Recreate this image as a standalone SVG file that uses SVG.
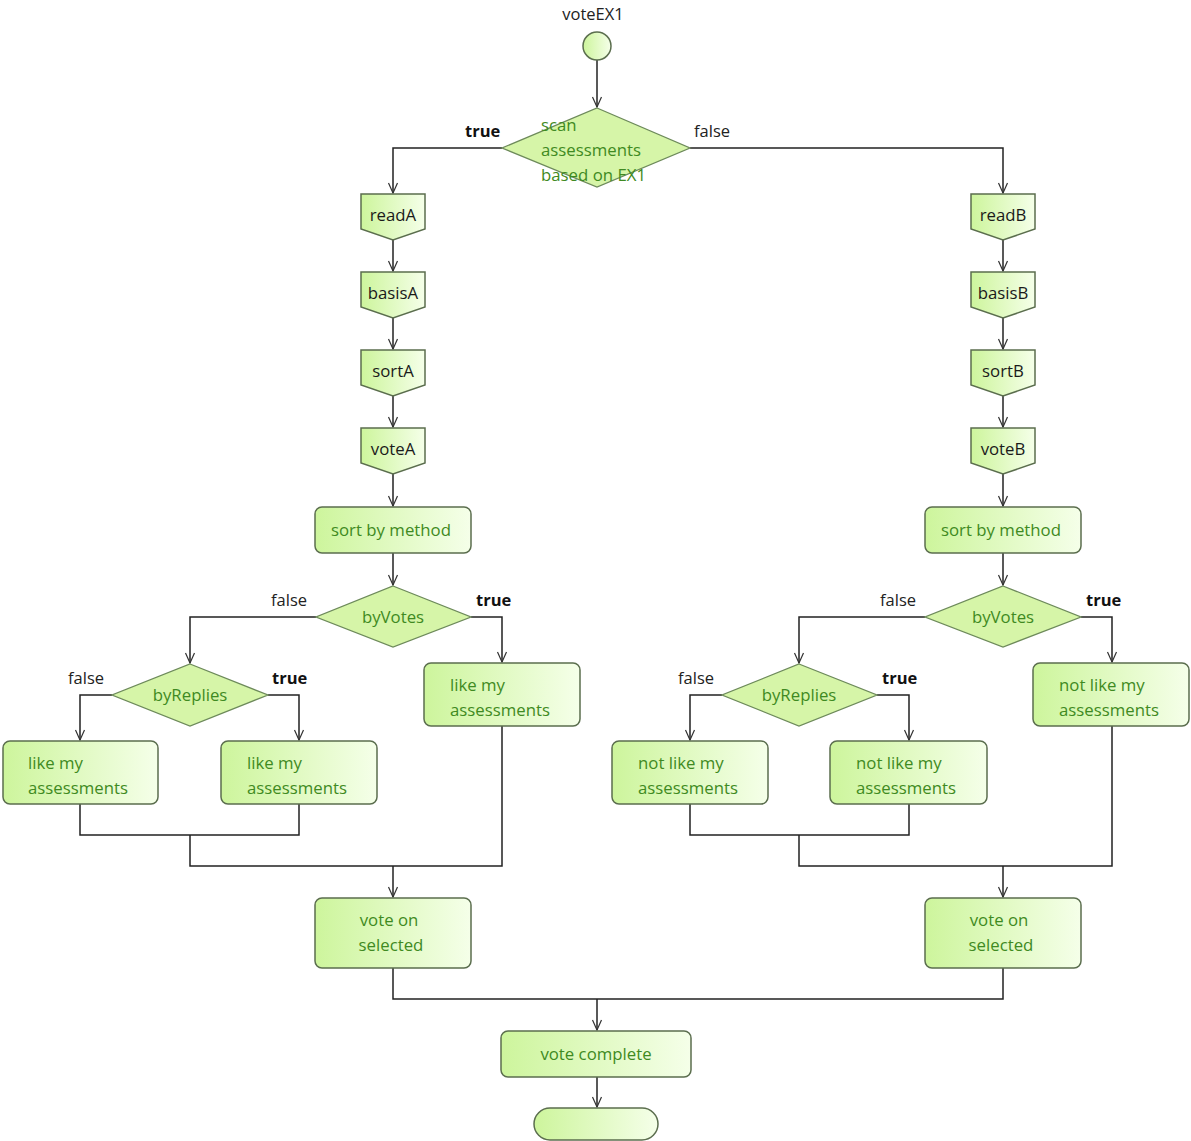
<svg xmlns="http://www.w3.org/2000/svg" width="1191" height="1141" viewBox="0 0 1191 1141">
<defs>
<linearGradient id="g" x1="0" y1="0" x2="1" y2="0">
<stop offset="0" stop-color="#cdf59c"/>
<stop offset="1" stop-color="#f5ffe9"/>
</linearGradient>
<marker id="a" markerUnits="userSpaceOnUse" markerWidth="12" markerHeight="12" viewBox="0 0 12 12" refX="11" refY="6" orient="auto">
<path d="M1,1.5 L11,6 L1,10.5" fill="none" stroke="#333" stroke-width="1.2"/>
</marker>
</defs>
<style>
.n{fill:url(#g);stroke:#5b6e4e;stroke-width:1.5}
.d{fill:#d6f5a8;stroke:#6d8a5a;stroke-width:1.3}
.t{font-family:"Open Sans","Noto Sans",sans-serif;font-size:16.8px;fill:#3f8a22}
.k{fill:#1a1a1a}
.c{text-anchor:middle}
.l{font-family:"Open Sans","Noto Sans",sans-serif;font-size:16.5px;fill:#222}
.b{font-weight:bold;fill:#111}
.e{fill:none;stroke:#222;stroke-width:1.5}
</style>
<rect width="1191" height="1141" fill="#fff"/>
<g id="connectors">
<path class="e" d="M597,60 V107" marker-end="url(#a)"/>
<path class="e" d="M502,148 H393 V193" marker-end="url(#a)"/>
<path class="e" d="M690,148 H1003 V193" marker-end="url(#a)"/>
<path class="e" d="M393,240 V271" marker-end="url(#a)"/>
<path class="e" d="M393,318 V349" marker-end="url(#a)"/>
<path class="e" d="M393,396 V427" marker-end="url(#a)"/>
<path class="e" d="M393,474 V506" marker-end="url(#a)"/>
<path class="e" d="M393,553 V585" marker-end="url(#a)"/>
<path class="e" d="M1003,240 V271" marker-end="url(#a)"/>
<path class="e" d="M1003,318 V349" marker-end="url(#a)"/>
<path class="e" d="M1003,396 V427" marker-end="url(#a)"/>
<path class="e" d="M1003,474 V506" marker-end="url(#a)"/>
<path class="e" d="M1003,553 V585" marker-end="url(#a)"/>
<path class="e" d="M316,617 H190 V663" marker-end="url(#a)"/>
<path class="e" d="M471,617 H502 V662" marker-end="url(#a)"/>
<path class="e" d="M112,695 H80 V740" marker-end="url(#a)"/>
<path class="e" d="M268,695 H299 V740" marker-end="url(#a)"/>
<path class="e" d="M925,617 H799 V663" marker-end="url(#a)"/>
<path class="e" d="M1081,617 H1112 V662" marker-end="url(#a)"/>
<path class="e" d="M722,695 H690 V740" marker-end="url(#a)"/>
<path class="e" d="M877,695 H909 V740" marker-end="url(#a)"/>
<path class="e" d="M80,804 V835 H299 V804"/>
<path class="e" d="M190,835 V866 H502 V726"/>
<path class="e" d="M393,866 V897" marker-end="url(#a)"/>
<path class="e" d="M690,804 V835 H909 V804"/>
<path class="e" d="M799,835 V866 H1112 V726"/>
<path class="e" d="M1003,866 V897" marker-end="url(#a)"/>
<path class="e" d="M393,968 V999 H1003 V968"/>
<path class="e" d="M597,999 V1030" marker-end="url(#a)"/>
<path class="e" d="M597,1077 V1107" marker-end="url(#a)"/>
</g>
<g id="labels">
<text class="l b" x="465" y="137">true</text>
<text class="l" x="694" y="137">false</text>
<text class="l" x="271" y="606">false</text>
<text class="l b" x="476" y="606">true</text>
<text class="l" x="68" y="684">false</text>
<text class="l b" x="272" y="684">true</text>
<text class="l" x="880" y="606">false</text>
<text class="l b" x="1086" y="606">true</text>
<text class="l" x="678" y="684">false</text>
<text class="l b" x="882" y="684">true</text>
</g>
<g id="start">
<text class="l c" x="593" y="20">voteEX1</text>
<circle class="n" cx="597" cy="46" r="14"/>
</g>
<g id="scan">
<path class="d" d="M597,108 L690,148 L597,187 L502,148 Z"/>
<text class="t" x="541" y="131">scan</text>
<text class="t" x="541" y="156">assessments</text>
<text class="t" x="541" y="181">based on EX1</text>
</g>
<g id="readA"><path class="n" d="M361,194 H425 V229 L393,240 L361,229 Z"/><text class="t c k" x="393" y="221">readA</text></g>
<g id="basisA"><path class="n" d="M361,272 H425 V307 L393,318 L361,307 Z"/><text class="t c k" x="393" y="299">basisA</text></g>
<g id="sortA"><path class="n" d="M361,350 H425 V385 L393,396 L361,385 Z"/><text class="t c k" x="393" y="377">sortA</text></g>
<g id="voteA"><path class="n" d="M361,428 H425 V463 L393,474 L361,463 Z"/><text class="t c k" x="393" y="455">voteA</text></g>
<g id="readB"><path class="n" d="M971,194 H1035 V229 L1003,240 L971,229 Z"/><text class="t c k" x="1003" y="221">readB</text></g>
<g id="basisB"><path class="n" d="M971,272 H1035 V307 L1003,318 L971,307 Z"/><text class="t c k" x="1003" y="299">basisB</text></g>
<g id="sortB"><path class="n" d="M971,350 H1035 V385 L1003,396 L971,385 Z"/><text class="t c k" x="1003" y="377">sortB</text></g>
<g id="voteB"><path class="n" d="M971,428 H1035 V463 L1003,474 L971,463 Z"/><text class="t c k" x="1003" y="455">voteB</text></g>
<g id="sortMethodA"><rect class="n" x="315" y="507" width="156" height="46" rx="7"/><text class="t c" x="391" y="536">sort by method</text></g>
<g id="sortMethodB"><rect class="n" x="925" y="507" width="156" height="46" rx="7"/><text class="t c" x="1001" y="536">sort by method</text></g>
<g id="byVotesA"><path class="d" d="M393,586 L471,617 L393,647 L316,617 Z"/><text class="t c" x="393" y="623">byVotes</text></g>
<g id="byVotesB"><path class="d" d="M1003,586 L1081,617 L1003,647 L925,617 Z"/><text class="t c" x="1003" y="623">byVotes</text></g>
<g id="byRepliesA"><path class="d" d="M190,664 L268,695 L190,726 L112,695 Z"/><text class="t c" x="190" y="701">byReplies</text></g>
<g id="byRepliesB"><path class="d" d="M799,664 L877,695 L799,726 L722,695 Z"/><text class="t c" x="799" y="701">byReplies</text></g>
<g id="likeA1"><rect class="n" x="3" y="741" width="155" height="63" rx="7"/><text class="t" x="28" y="769">like my</text><text class="t" x="28" y="794">assessments</text></g>
<g id="likeA2"><rect class="n" x="221" y="741" width="156" height="63" rx="7"/><text class="t" x="247" y="769">like my</text><text class="t" x="247" y="794">assessments</text></g>
<g id="likeA3"><rect class="n" x="424" y="663" width="156" height="63" rx="7"/><text class="t" x="450" y="691">like my</text><text class="t" x="450" y="716">assessments</text></g>
<g id="notLikeB1"><rect class="n" x="612" y="741" width="156" height="63" rx="7"/><text class="t" x="638" y="769">not like my</text><text class="t" x="638" y="794">assessments</text></g>
<g id="notLikeB2"><rect class="n" x="830" y="741" width="157" height="63" rx="7"/><text class="t" x="856" y="769">not like my</text><text class="t" x="856" y="794">assessments</text></g>
<g id="notLikeB3"><rect class="n" x="1033" y="663" width="156" height="63" rx="7"/><text class="t" x="1059" y="691">not like my</text><text class="t" x="1059" y="716">assessments</text></g>
<g id="voteSelA"><rect class="n" x="315" y="898" width="156" height="70" rx="7"/><text class="t c" x="389" y="926">vote on</text><text class="t c" x="391" y="951">selected</text></g>
<g id="voteSelB"><rect class="n" x="925" y="898" width="156" height="70" rx="7"/><text class="t c" x="999" y="926">vote on</text><text class="t c" x="1001" y="951">selected</text></g>
<g id="voteComplete"><rect class="n" x="501" y="1031" width="190" height="46" rx="7"/><text class="t c" x="596" y="1060">vote complete</text></g>
<g id="end"><rect class="n" x="534" y="1108" width="124" height="32" rx="16"/></g>
</svg>
